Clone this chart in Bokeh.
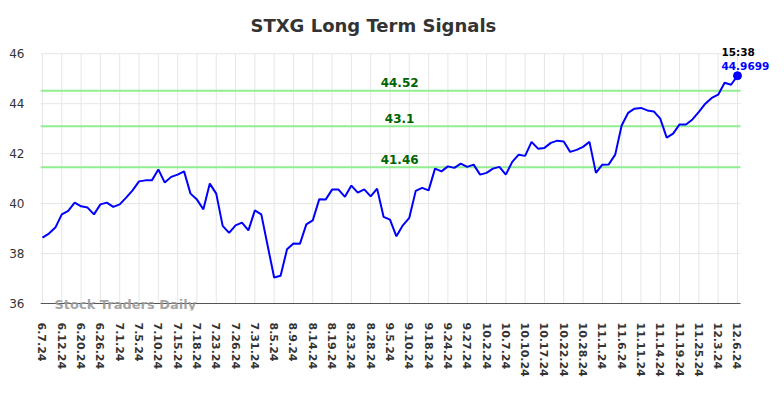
from bokeh.plotting import figure
from bokeh.models import Range1d, FixedTicker, Label, ColumnDataSource
from bokeh.embed import file_html
from bokeh.resources import INLINE

# ---- data ----
tick_labels = ["6.7.24", "6.12.24", "6.20.24", "6.26.24", "7.1.24", "7.5.24", "7.10.24",
               "7.15.24", "7.18.24", "7.23.24", "7.26.24", "7.31.24", "8.5.24", "8.9.24",
               "8.14.24", "8.19.24", "8.23.24", "8.28.24", "9.5.24", "9.10.24", "9.18.24",
               "9.24.24", "9.27.24", "10.2.24", "10.7.24", "10.10.24", "10.17.24",
               "10.22.24", "10.28.24", "11.1.24", "11.6.24", "11.11.24", "11.14.24",
               "11.19.24", "11.25.24", "12.3.24", "12.6.24"]
tick_step = 3

prices = [38.64, 38.80, 39.04, 39.57, 39.71, 40.04, 39.89, 39.84, 39.57, 39.97,
          40.04, 39.87, 39.97, 40.24, 40.53, 40.89, 40.93, 40.93, 41.37, 40.84,
          41.07, 41.16, 41.29, 40.40, 40.16, 39.77, 40.80, 40.40, 39.11, 38.83,
          39.13, 39.24, 38.93, 39.73, 39.57, 38.30, 37.04, 37.11, 38.17, 38.40,
          38.39, 39.17, 39.33, 40.17, 40.16, 40.56, 40.56, 40.27, 40.72, 40.44,
          40.57, 40.29, 40.60, 39.47, 39.36, 38.69, 39.13, 39.43, 40.51, 40.63,
          40.53, 41.40, 41.29, 41.49, 41.43, 41.60, 41.47, 41.56, 41.16, 41.23,
          41.40, 41.47, 41.16, 41.67, 41.96, 41.91, 42.47, 42.20, 42.23, 42.43,
          42.52, 42.49, 42.07, 42.15, 42.27, 42.47, 41.23, 41.56, 41.57, 41.96,
          43.13, 43.63, 43.80, 43.83, 43.73, 43.69, 43.40, 42.64, 42.80, 43.17,
          43.17, 43.37, 43.67, 44.00, 44.23, 44.36, 44.84, 44.76, 45.12]

levels = [44.52, 43.1, 41.46]
level_texts = ["44.52", "43.1", "41.46"]
last_time = "15:38"
last_price_text = "44.9699"
title_text = "STXG Long Term Signals"
watermark = "Stock Traders Daily"
y_ticks = [36, 38, 40, 42, 44, 46]

# ---- geometry of the visible plot area (data units) ----
x_lo, x_hi = -0.31, len(prices) - 1 + 0.47      # plot area left/right
y_lo, y_hi = y_ticks[0], y_ticks[-1]

xs = list(range(len(prices)))
src = ColumnDataSource(dict(x=xs, y=prices))
ticks = list(range(0, len(prices), tick_step))

FONT = "DejaVu Sans"
# frame is made larger than the plot area so texts outside it are not clipped
p = figure(width=784, height=398, output_backend="svg", toolbar_location=None,
           x_range=Range1d(x_lo, x_lo + 744 / 6.435),
           y_range=Range1d(y_lo - 0.28, y_hi + 0.53),
           min_border_left=40, min_border_right=0, min_border_top=40, min_border_bottom=88)
p.outline_line_color = None
p.background_fill_color = "white"
p.border_fill_color = "white"
p.grid.visible = False

p.title.text = title_text
p.title.align = "left"
p.title.offset = 210
p.title.text_font = FONT
p.title.text_font_size = "18px"
p.title.text_font_style = "bold"
p.title.text_color = "#333333"

# axes
p.xaxis.ticker = FixedTicker(ticks=ticks)
p.xaxis.major_label_overrides = {t: lab for t, lab in zip(ticks, tick_labels)}
p.xaxis.major_label_orientation = "vertical"
p.xaxis.major_label_text_font = FONT
p.xaxis.major_label_text_font_size = "11px"
p.xaxis.major_label_text_font_style = "bold"
p.xaxis.major_label_text_color = "#333333"
p.xaxis.major_tick_line_color = None
p.xaxis.minor_tick_line_color = None
p.xaxis.major_tick_out = 0
p.xaxis.major_tick_in = 0
p.xaxis.major_label_standoff = 12
p.xaxis.axis_line_color = None

p.yaxis.ticker = FixedTicker(ticks=y_ticks)
p.yaxis.major_label_text_font = FONT
p.yaxis.major_label_text_font_size = "12px"
p.yaxis.major_label_text_color = "#333333"
p.yaxis.axis_line_color = None
p.yaxis.major_tick_line_color = None
p.yaxis.minor_tick_line_color = None
p.yaxis.major_tick_out = 0
p.yaxis.major_tick_in = 0
p.yaxis.major_label_standoff = 16

# grid lines limited to the plot area
p.segment(x0=ticks, y0=[y_lo] * len(ticks), x1=ticks, y1=[y_hi] * len(ticks),
          line_color="#e6e6e6", line_width=1)
p.segment(x0=[x_lo] * len(y_ticks), y0=y_ticks, x1=[x_hi] * len(y_ticks), y1=y_ticks,
          line_color="#e6e6e6", line_width=1)

# level lines
p.segment(x0=[x_lo] * len(levels), y0=levels, x1=[x_hi] * len(levels), y1=levels,
          line_color="#90ee90", line_width=2)
for lv, txt in zip(levels, level_texts):
    p.add_layout(Label(x=55.5, y=lv, text=txt, text_align="center", text_baseline="alphabetic",
                       y_offset=8, text_font=FONT, text_font_size="12px",
                       text_font_style="bold", text_color="#006400"))

# x axis line
p.segment(x0=[x_lo], y0=[y_lo], x1=[x_hi], y1=[y_lo], line_color="#555555", line_width=1.2)

# watermark
p.add_layout(Label(x=1.86, y=y_lo, text=watermark, text_align="left", text_baseline="alphabetic",
                   y_offset=-1, text_font=FONT, text_font_size="13px", text_font_style="bold",
                   text_color="#999999", text_alpha=0.9))

# price line
p.line("x", "y", source=src, line_color="#0000ff", line_width=2)
last_x = xs[-1]
last_y = prices[-1]
p.scatter([last_x], [last_y], size=8, color="#0000ff")

p.add_layout(Label(x=last_x, y=last_y, text=last_price_text, text_align="left",
                   text_baseline="alphabetic", x_offset=-16, y_offset=10, text_font=FONT,
                   text_font_size="10.5px", text_font_style="bold", text_color="#0000ff"))
p.add_layout(Label(x=last_x, y=last_y, text=last_time, text_align="left",
                   text_baseline="alphabetic", x_offset=-16, y_offset=23.5, text_font=FONT,
                   text_font_size="10.5px", text_font_style="bold", text_color="#000000"))

open("out.html", "w").write(file_html(p, INLINE))
